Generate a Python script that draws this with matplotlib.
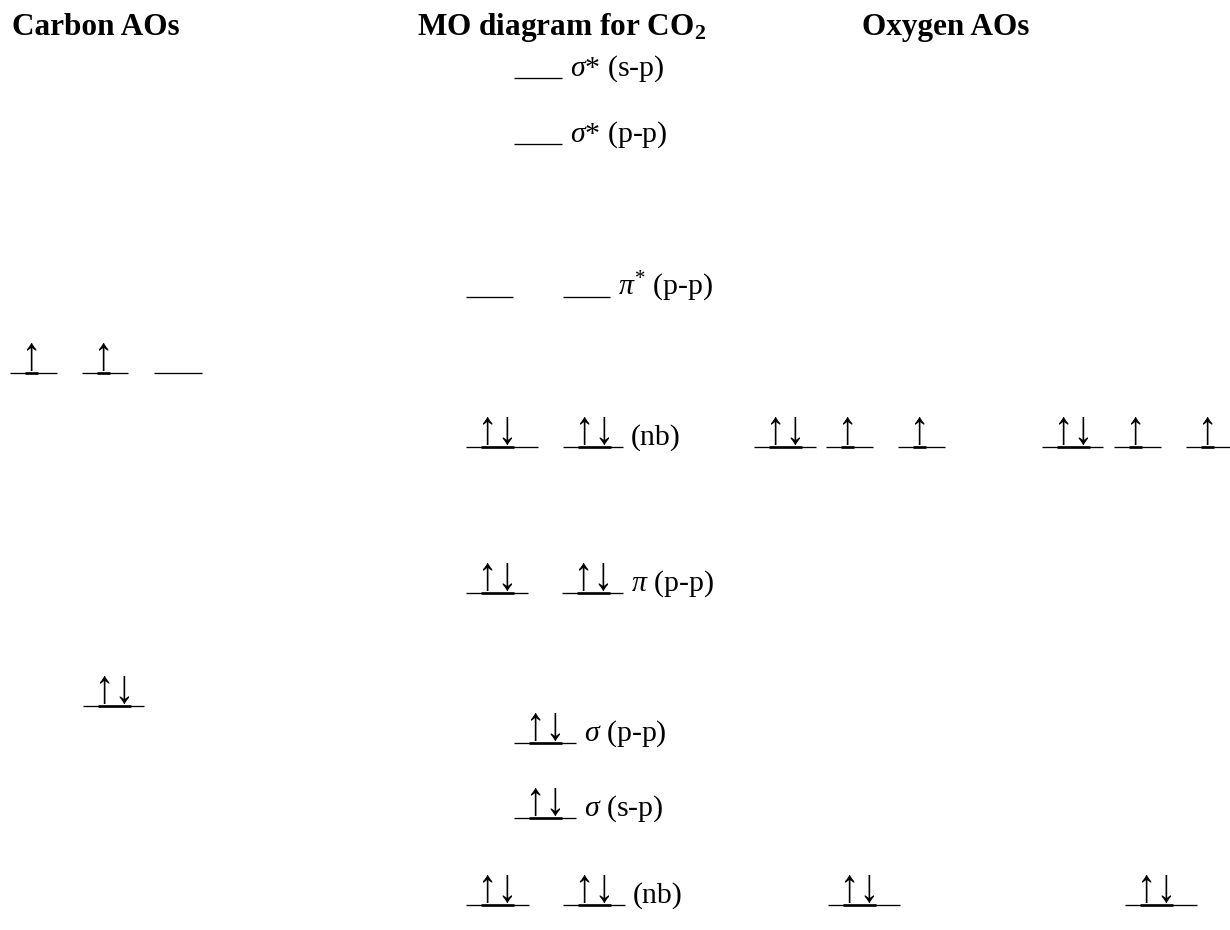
import matplotlib
matplotlib.use("Agg")
import matplotlib.pyplot as plt
from matplotlib.textpath import TextPath
from matplotlib.font_manager import FontProperties
from matplotlib.patheffects import AbstractPathEffect
from matplotlib.transforms import Affine2D

# ------------------------------------------------------------------ data
headers = ["Carbon AOs", r"MO diagram for CO$_\mathbf{2}$", "Oxygen AOs"]

# molecular orbitals, top (highest energy) to bottom
mo_labels = [r"$\sigma$* (s-p)", r"$\sigma$* (p-p)", r"$\pi^{*}$ (p-p)", "(nb)",
             r"$\pi$ (p-p)", r"$\sigma$ (p-p)", r"$\sigma$ (s-p)", "(nb)"]
mo_energy = [78, 144, 297, 447, 593, 743, 818, 905]          # vertical level (page units, down = lower energy)
mo_electrons = [[""], [""], ["", ""], ["↑↓", "↑↓"], ["↑↓", "↑↓"],
                ["↑↓"], ["↑↓"], ["↑↓", "↑↓"]]

# carbon atomic orbitals: 2s, 2p
carbon_orbitals = ["2s", "2p"]
carbon_energy = [706, 373]
carbon_electrons = [["↑↓"], ["↑", "↑", ""]]

# oxygen atomic orbitals (two O atoms): 2p, 2s
oxygen_orbitals = ["2p", "2s"]
oxygen_energy = [447, 905]
oxygen_electrons = [["↑↓", "↑", "↑"], ["↑↓"]]

# ------------------------------------------------------------------ layout
header_x = [12, 417, 862]
header_y = 35
mo_slots = [
    [(514, 562)],
    [(514, 562)],
    [(466, 513), (563, 610)],
    [(466, 538), (563, 623)],
    [(466, 528), (562, 623)],
    [(514, 576)],
    [(514, 576)],
    [(466, 529), (563, 625)],
]
carbon_slots = [[(83, 144)], [(10, 57), (82, 128), (154, 202)]]
oxygen_slots = [  # per atom
    [[(754, 816), (826, 873), (898, 945)], [(828, 900)]],
    [[(1042, 1103), (1114, 1161), (1186, 1236)], [(1125, 1197)]],
]

FS_HEAD = 22.5
FS_BODY = 21.5
EM = FS_BODY * 100 / 72.0
ARROW_PAIR_W = 29.0
ARROW_H = 28.0

plt.rcParams["font.family"] = ["Liberation Serif", "DejaVu Serif"]
plt.rcParams["mathtext.fontset"] = "custom"
plt.rcParams["mathtext.rm"] = "Liberation Serif"
plt.rcParams["mathtext.it"] = "Liberation Serif:italic"
plt.rcParams["mathtext.bf"] = "Liberation Serif:bold"

fig = plt.figure(figsize=(12.3, 9.3), dpi=100)
ax = fig.add_axes([0, 0, 1, 1])
ax.set_xlim(0, 1230)
ax.set_ylim(930, 0)
ax.axis("off")

arrow_prop = FontProperties(family="Liberation Serif")
_ref = TextPath((0, 0), "↑↓", size=EM, prop=arrow_prop).get_extents()
SX = ARROW_PAIR_W / _ref.width
SY = ARROW_H / _ref.height


class Stretch(AbstractPathEffect):
    """Stretch glyphs about the text origin (tall, narrow arrows)."""

    def __init__(self, sx, sy):
        super().__init__()
        self.sx, self.sy = sx, sy

    def draw_path(self, renderer, gc, tpath, affine, rgbFace=None):
        renderer.draw_path(gc, tpath, Affine2D().scale(self.sx, self.sy) + affine,
                           rgbFace)


stretch = Stretch(SX, SY)


def draw_level(x0, x1, y, electrons):
    ax.plot([x0, x1], [y, y], color="black", lw=0.95, solid_capstyle="butt")
    if electrons:
        ext = TextPath((0, 0), electrons, size=EM, prop=arrow_prop).get_extents()
        ink_left = x0 + 17
        xt = ink_left - ext.x0 * SX
        yt = (y - 2) + ext.y0 * SY
        ax.text(xt, yt, electrons, ha="left", va="baseline", fontsize=FS_BODY,
                family="Liberation Serif", color="black",
                path_effects=[stretch])
        ink_right = xt + ext.x1 * SX
        ax.plot([ink_left - 2, ink_right + 2], [y, y], color="black", lw=1.9,
                solid_capstyle="butt")


for hx, h in zip(header_x, headers):
    ax.text(hx, header_y, h, ha="left", va="baseline", fontsize=FS_HEAD,
            fontweight="bold")

for label, y, elec, slots in zip(mo_labels, mo_energy, mo_electrons, mo_slots):
    for (x0, x1), e in zip(slots, elec):
        draw_level(x0, x1, y, e)
    ax.text(slots[-1][1] + 8, y - 2, label, ha="left", va="baseline",
            fontsize=FS_BODY)

for y, elec, slots in zip(carbon_energy, carbon_electrons, carbon_slots):
    for (x0, x1), e in zip(slots, elec):
        draw_level(x0, x1, y, e)

for atom in oxygen_slots:
    for y, elec, slots in zip(oxygen_energy, oxygen_electrons, atom):
        for (x0, x1), e in zip(slots, elec):
            draw_level(x0, x1, y, e)

fig.savefig("out.png", dpi=100, facecolor="white")
